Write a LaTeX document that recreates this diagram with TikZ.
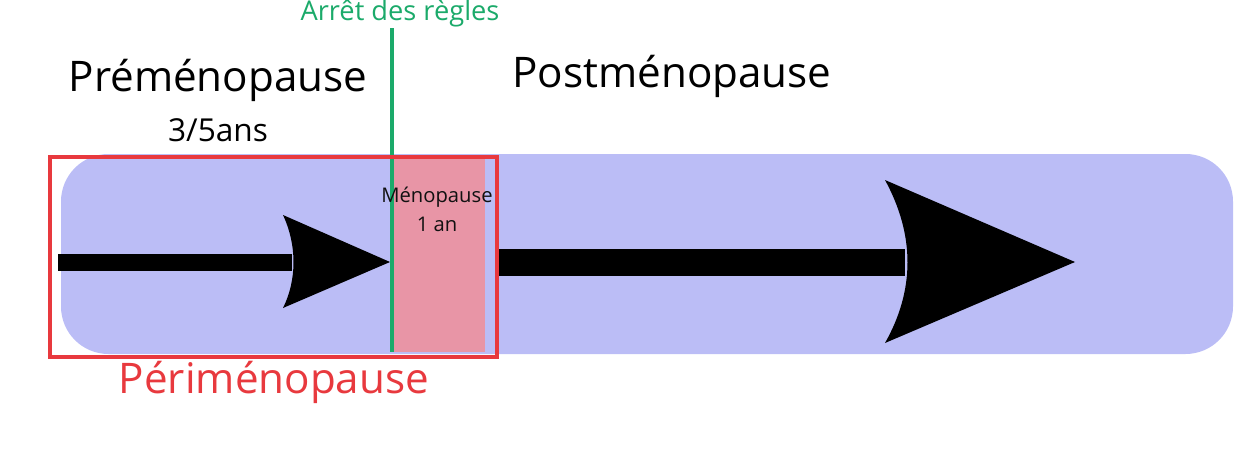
\documentclass[tikz,border=0pt]{standalone}
\usepackage{fontspec}
\setmainfont{Open Sans}
\usetikzlibrary{positioning,calc}
\definecolor{band}{HTML}{BBBDF6}
\definecolor{peri}{HTML}{E8393E}
\definecolor{meno}{HTML}{E895A6}
\definecolor{regle}{HTML}{1BAA6A}
\definecolor{dark}{HTML}{111111}
\tikzset{
  phase/.style={font=\fontsize{24}{28}\selectfont, text=black, inner sep=0pt},
  sub/.style={font=\fontsize{18}{21}\selectfont, text=black, inner sep=0pt},
  small/.style={font=\fontsize{11.5}{14}\selectfont, text=dark, inner sep=0pt},
  stopl/.style={draw=regle, line width=1.8pt},
  perbox/.style={draw=peri, line width=2.8pt},
  shaft/.style={fill=black},
}
\begin{document}
\begin{tikzpicture}[x=0.02cm,y=-0.02cm]
  \useasboundingbox (0,0) rectangle (1252,470);
  % --- background band ---
  \fill[band, rounded corners=0.95cm] (61,154) rectangle (1233,354);
  \fill[meno] (392,157) rectangle (485,352);
  % --- arrows ---
  \coordinate (a1) at (58,262);
  \coordinate (t1) at (390,262);
  \coordinate (a2) at (498,262);
  \coordinate (t2) at (1075,262);
  \fill[shaft] ($(a1)+(0,-8.5)$) rectangle (292,270.5);
  \fill[shaft] (283,215) .. controls (297,245) and (297,280) .. (283,308) -- (t1) -- cycle;
  \fill[shaft] ($(a2)+(0,-13.5)$) rectangle (905,275.5);
  \fill[shaft] (885,180) .. controls (915,235) and (915,290) .. (885,343) -- (t2) -- cycle;
  % --- stop line + perimenopause box ---
  \node[font=\fontsize{15.5}{18}\selectfont, text=regle, inner sep=0pt] (arret) at (400,13) {Arrêt des règles};
  \coordinate (stopb) at (392,352);
  \draw[stopl] (392,28) -- (stopb);
  \draw[perbox] (50,157) rectangle (497,357);
  % --- labels ---
  \node[phase] (pre) at (218,80) {Préménopause};
  \node[sub] (dur) at (218,130) {3/5ans};
  \node[phase] (post) at (672,76) {Postménopause};
  \node[small] (men) at (437,197) {Ménopause};
  \node[small] (an) at (437,224) {1 an};
  \node[phase, text=peri] (perim) at (274,382) {Périménopause};
\end{tikzpicture}
\end{document}
